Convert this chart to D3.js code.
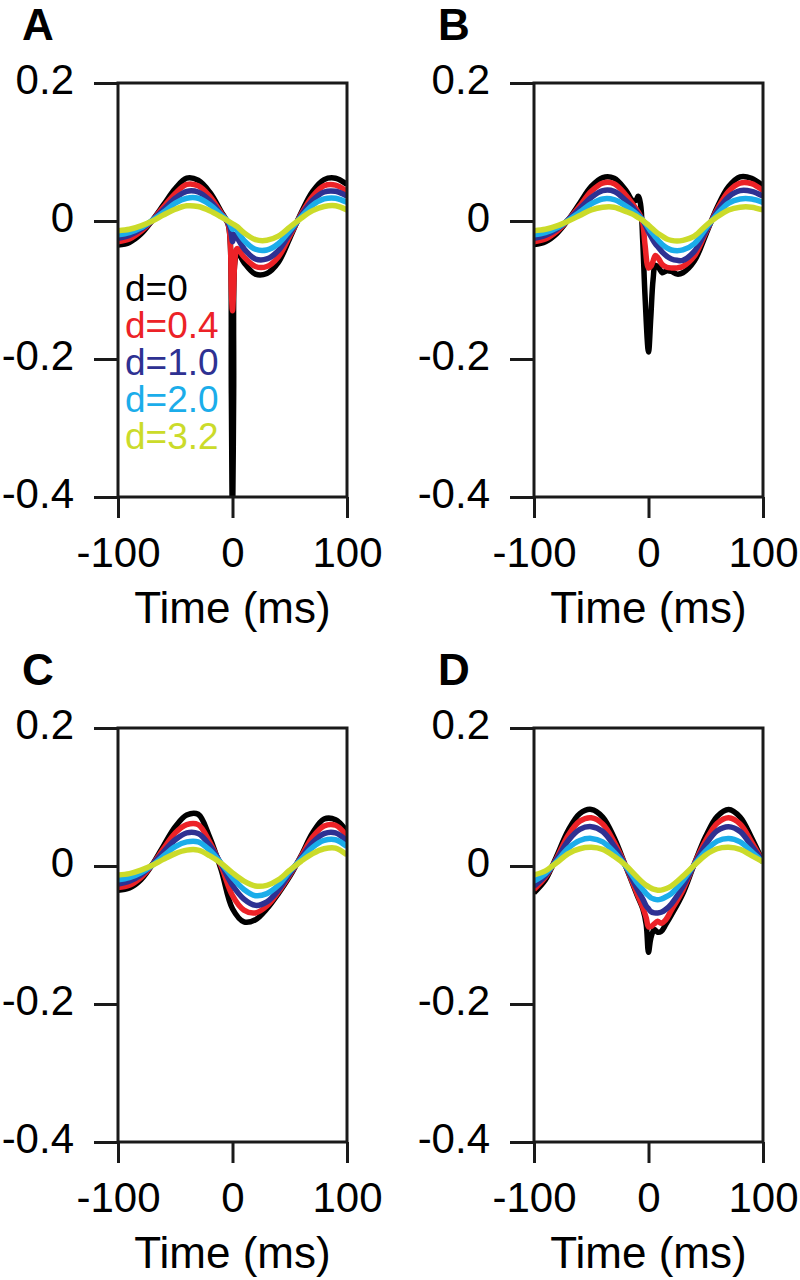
<!DOCTYPE html>
<html>
<head>
<meta charset="utf-8">
<script src="https://cdn.jsdelivr.net/npm/d3@7"></script>
<style>
  body { margin: 0; background: #fff; }
  svg text { font-family: "Liberation Sans", Arial, Helvetica, sans-serif; }
</style>
</head>
<body>
<svg id="container" width="800" height="1280"></svg>
<script>
// series labels and colours
const labels = ["d=0", "d=0.4", "d=1.0", "d=2.0", "d=3.2"];
const colors = ["#000000", "#ec2227", "#2e3192", "#1badea", "#cbdb2a"];

const xTicks = [-100, 0, 100];
const yTicks = [0.2, 0, -0.2, -0.4];

// panel A
const timesA = [-100, -90, -80, -70, -60, -50, -40, -30, -20, -10, -4, -2, -1, 0, 1, 2, 4, 10, 20, 30, 40, 50, 60, 70, 80, 90, 100];
const blackA = [-0.035, -0.031, -0.019, 0.001, 0.024, 0.047, 0.062, 0.059, 0.042, 0.014, -0.004, -0.030, -0.250, -0.450, -0.250, -0.060, -0.045, -0.060, -0.077, -0.076, -0.060, -0.025, 0.012, 0.043, 0.060, 0.062, 0.053];
const redA = [-0.030, -0.026, -0.015, 0.001, 0.021, 0.040, 0.053, 0.051, 0.036, 0.012, -0.003, -0.030, -0.100, -0.130, -0.100, -0.060, -0.040, -0.052, -0.066, -0.066, -0.052, -0.022, 0.010, 0.036, 0.051, 0.052, 0.043];
const blueA = [-0.025, -0.021, -0.012, 0.001, 0.017, 0.033, 0.043, 0.042, 0.030, 0.010, -0.002, -0.010, -0.020, -0.030, -0.024, -0.020, -0.024, -0.040, -0.055, -0.055, -0.043, -0.018, 0.008, 0.030, 0.042, 0.043, 0.036];
const cyanA = [-0.020, -0.017, -0.010, 0.001, 0.013, 0.026, 0.033, 0.033, 0.024, 0.009, 0.000, -0.005, -0.009, -0.012, -0.011, -0.010, -0.014, -0.028, -0.041, -0.042, -0.033, -0.014, 0.006, 0.023, 0.032, 0.033, 0.027];
const yellowA = [-0.014, -0.012, -0.007, 0.000, 0.009, 0.017, 0.022, 0.021, 0.015, 0.006, 0.000, -0.002, -0.003, -0.004, -0.005, -0.006, -0.008, -0.017, -0.027, -0.028, -0.022, -0.009, 0.004, 0.015, 0.021, 0.022, 0.016];

// panel B
const timesB = [-100, -90, -80, -70, -60, -50, -40, -30, -20, -14, -11, -9, -7, -5, -3, 0, 2, 4, 6, 9, 12, 16, 20, 25, 30, 40, 50, 60, 70, 80, 90, 100];
const blackB = [-0.034, -0.030, -0.018, 0.002, 0.026, 0.050, 0.063, 0.062, 0.045, 0.030, 0.030, 0.036, 0.025, -0.030, -0.110, -0.190, -0.140, -0.085, -0.064, -0.068, -0.075, -0.072, -0.073, -0.077, -0.075, -0.058, -0.020, 0.020, 0.050, 0.064, 0.062, 0.051];
const redB = [-0.030, -0.026, -0.015, 0.002, 0.022, 0.043, 0.055, 0.054, 0.038, 0.025, 0.018, 0.013, 0.007, -0.003, -0.035, -0.068, -0.066, -0.058, -0.050, -0.055, -0.063, -0.067, -0.068, -0.068, -0.066, -0.051, -0.017, 0.017, 0.043, 0.055, 0.054, 0.044];
const blueB = [-0.025, -0.021, -0.012, 0.002, 0.018, 0.034, 0.044, 0.043, 0.030, 0.020, 0.014, 0.010, 0.006, 0.001, -0.005, -0.016, -0.022, -0.028, -0.033, -0.039, -0.045, -0.051, -0.055, -0.057, -0.057, -0.044, -0.015, 0.014, 0.035, 0.044, 0.043, 0.036];
const cyanB = [-0.020, -0.017, -0.010, 0.001, 0.013, 0.025, 0.032, 0.031, 0.022, 0.015, 0.011, 0.008, 0.005, 0.001, -0.003, -0.010, -0.015, -0.019, -0.023, -0.029, -0.034, -0.039, -0.042, -0.043, -0.042, -0.033, -0.011, 0.010, 0.026, 0.032, 0.032, 0.027];
const yellowB = [-0.014, -0.012, -0.007, 0.000, 0.008, 0.016, 0.020, 0.020, 0.014, 0.010, 0.007, 0.005, 0.003, 0.001, -0.002, -0.006, -0.009, -0.012, -0.015, -0.019, -0.022, -0.026, -0.028, -0.029, -0.028, -0.022, -0.007, 0.006, 0.016, 0.020, 0.020, 0.016];

// panel C
const timesC = [-100, -90, -80, -70, -60, -50, -40, -30, -20, -10, 0, 10, 20, 30, 40, 50, 60, 70, 80, 90, 100];
const blackC = [-0.035, -0.032, -0.020, 0.002, 0.030, 0.057, 0.074, 0.075, 0.042, -0.005, -0.062, -0.081, -0.078, -0.062, -0.040, -0.015, 0.015, 0.048, 0.068, 0.067, 0.050];
const redC = [-0.031, -0.028, -0.017, 0.002, 0.026, 0.048, 0.060, 0.060, 0.035, 0.000, -0.043, -0.064, -0.068, -0.058, -0.038, -0.013, 0.014, 0.042, 0.058, 0.059, 0.043];
const blueC = [-0.026, -0.022, -0.013, 0.002, 0.021, 0.038, 0.048, 0.047, 0.030, 0.003, -0.028, -0.048, -0.057, -0.052, -0.035, -0.011, 0.012, 0.034, 0.047, 0.048, 0.036];
const cyanC = [-0.020, -0.017, -0.010, 0.001, 0.015, 0.028, 0.035, 0.035, 0.023, 0.004, -0.017, -0.034, -0.043, -0.040, -0.028, -0.008, 0.010, 0.027, 0.037, 0.038, 0.028];
const yellowC = [-0.013, -0.011, -0.006, 0.001, 0.010, 0.018, 0.023, 0.023, 0.015, 0.004, -0.010, -0.022, -0.029, -0.028, -0.020, -0.006, 0.007, 0.018, 0.025, 0.026, 0.016];

// panel D
const timesD = [-100, -90, -84, -80, -70, -60, -50, -40, -30, -20, -10, -5, -2, 0, 2, 5, 8, 11, 15, 20, 30, 40, 50, 60, 70, 80, 90, 100];
const blackD = [-0.039, -0.020, 0.000, 0.015, 0.052, 0.076, 0.082, 0.071, 0.041, 0.000, -0.042, -0.062, -0.085, -0.125, -0.105, -0.092, -0.096, -0.095, -0.085, -0.071, -0.040, 0.003, 0.043, 0.072, 0.082, 0.071, 0.041, 0.006];
const redD = [-0.034, -0.016, 0.000, 0.012, 0.045, 0.065, 0.070, 0.061, 0.035, 0.000, -0.040, -0.060, -0.075, -0.088, -0.088, -0.084, -0.080, -0.083, -0.078, -0.064, -0.035, 0.003, 0.037, 0.062, 0.070, 0.061, 0.035, 0.006];
const blueD = [-0.029, -0.014, 0.000, 0.010, 0.037, 0.053, 0.057, 0.050, 0.029, 0.000, -0.033, -0.048, -0.058, -0.062, -0.066, -0.068, -0.068, -0.067, -0.063, -0.055, -0.030, 0.002, 0.031, 0.051, 0.057, 0.050, 0.029, 0.006];
const cyanD = [-0.022, -0.011, 0.000, 0.007, 0.026, 0.037, 0.040, 0.035, 0.020, 0.000, -0.024, -0.034, -0.040, -0.043, -0.046, -0.048, -0.049, -0.048, -0.045, -0.040, -0.021, 0.002, 0.022, 0.036, 0.040, 0.035, 0.021, 0.006];
const yellowD = [-0.013, -0.007, 0.000, 0.005, 0.018, 0.025, 0.027, 0.024, 0.014, 0.001, -0.016, -0.024, -0.028, -0.030, -0.032, -0.034, -0.035, -0.035, -0.033, -0.029, -0.015, 0.001, 0.016, 0.025, 0.027, 0.024, 0.015, 0.006];

const panels = [
    { name: "A", left: 118, top: 83, times: timesA, series: [blackA, redA, blueA, cyanA, yellowA], legend: true },
    { name: "B", left: 534, top: 83, times: timesB, series: [blackB, redB, blueB, cyanB, yellowB] },
    { name: "C", left: 118, top: 728, times: timesC, series: [blackC, redC, blueC, cyanC, yellowC] },
    { name: "D", left: 534, top: 728, times: timesD, series: [blackD, redD, blueD, cyanD, yellowD] }
];

const svg = d3.select('#container');
const plotW = 229, plotH = 414;
const tickFont = 42, titleFont = 44;

const x = d3.scaleLinear().domain([-100, 100]).range([0, plotW]);
const y = d3.scaleLinear().domain([-0.4, 0.2]).range([plotH, 0]);

const line = d3.line()
    .x(d => x(d[0]))
    .y(d => y(d[1]))
    .curve(d3.curveCatmullRom.alpha(0.5));

panels.forEach((p, i) => drawPanel(p, i));

function drawPanel(p, i) {
    const g = svg.append('g').attr('transform', `translate(${p.left},${p.top})`);

    g.append('clipPath')
        .attr('id', 'clip' + i)
        .append('rect')
        .attr('width', plotW)
        .attr('height', plotH);

    // traces, black first so the lighter ones sit on top
    g.append('g')
        .attr('clip-path', `url(#clip${i})`)
        .selectAll('path')
        .data(p.series)
        .join('path')
        .attr('fill', 'none')
        .attr('stroke', (s, k) => colors[k])
        .attr('stroke-width', 5.5)
        .attr('stroke-linejoin', 'round')
        .attr('d', s => line(p.times.map((t, k) => [t, s[k]])));

    // frame
    g.append('rect')
        .attr('width', plotW)
        .attr('height', plotH)
        .attr('fill', 'none')
        .attr('stroke', '#1a1a1a')
        .attr('stroke-width', 3);

    const yAxis = g.append('g')
        .call(d3.axisLeft(y).tickValues(yTicks).tickSize(24).tickSizeOuter(0).tickPadding(20).tickFormat(d => String(d)));
    const xAxis = g.append('g')
        .attr('transform', `translate(0,${plotH})`)
        .call(d3.axisBottom(x).tickValues(xTicks).tickSize(21).tickSizeOuter(0).tickPadding(19).tickFormat(d => String(d)));

    [yAxis, xAxis].forEach(a => {
        a.select('.domain').remove();
        a.selectAll('line').attr('stroke', '#1a1a1a').attr('stroke-width', 3);
        a.selectAll('text').attr('fill', '#000').attr('font-size', tickFont).attr('font-family', null);
    });
    yAxis.selectAll('text').attr('dy', '0.26em');

    g.append('text')
        .attr('x', plotW / 2)
        .attr('y', plotH + 126)
        .attr('text-anchor', 'middle')
        .attr('font-size', titleFont)
        .text('Time (ms)');

    svg.append('text')
        .attr('x', p.left - 96)
        .attr('y', p.top - 43)
        .attr('font-size', 44)
        .attr('font-weight', 'bold')
        .text(p.name);

    if (p.legend) {
        g.append('g')
            .selectAll('text')
            .data(labels)
            .join('text')
            .attr('x', 7)
            .attr('y', (d, k) => 218 + k * 37)
            .attr('font-size', 37)
            .attr('fill', (d, k) => colors[k])
            .text(d => d);
    }
}
</script>
</body>
</html>
